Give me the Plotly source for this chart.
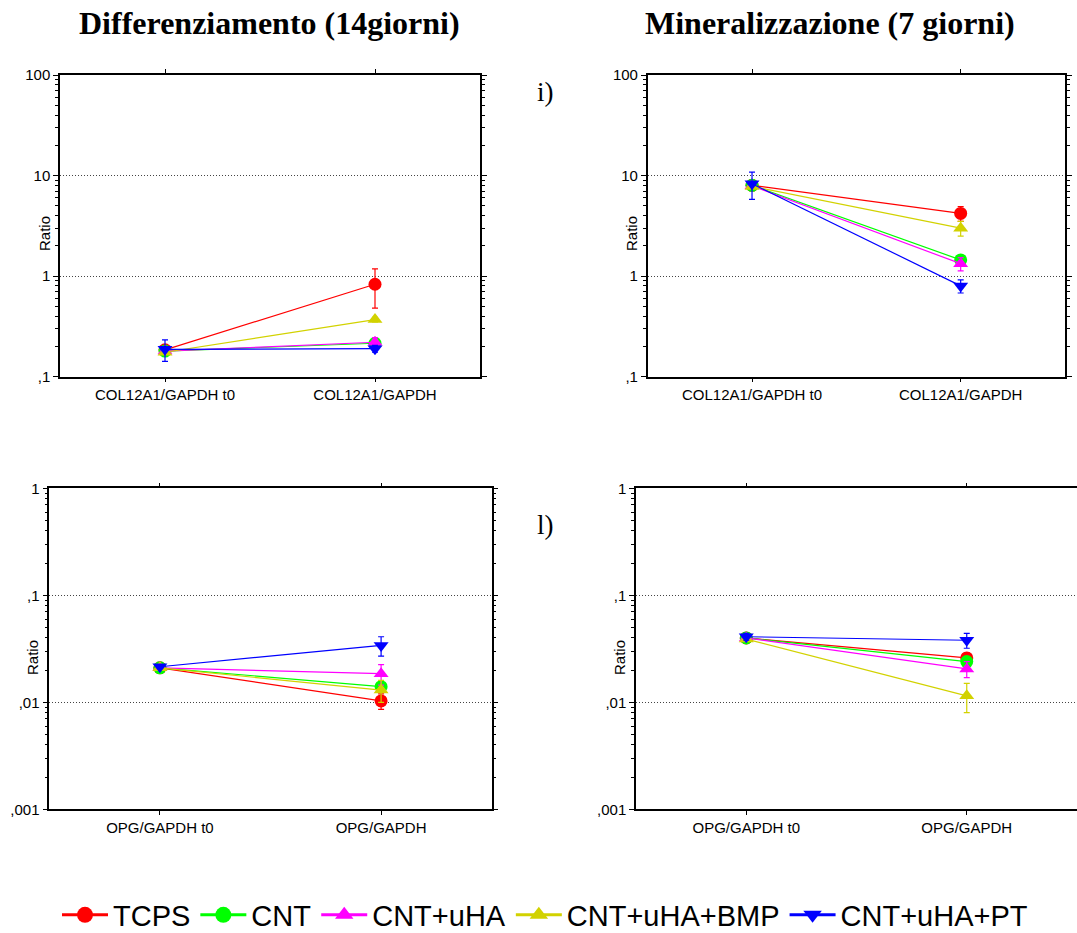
import plotly.graph_objects as go

# Series (treatment groups) and styling
groups = ["TCPS", "CNT", "CNT+uHA", "CNT+uHA+BMP", "CNT+uHA+PT"]
colors = ["#FF0000", "#00FF00", "#FF00FF", "#D2D200", "#0000FF"]
symbols = ["circle", "circle", "triangle-up", "triangle-up", "triangle-down"]

# Category labels
col12_cats = ["COL12A1/GAPDH t0", "COL12A1/GAPDH"]
opg_cats = ["OPG/GAPDH t0", "OPG/GAPDH"]

# COL12A1 - differenziamento (14 giorni); values in group order
col12_diff_t0 = [0.185, 0.18, 0.18, 0.175, 0.187]
col12_diff_t0_err = [0.0, 0.0, 0.0, 0.0, 0.045]
col12_diff_end = [0.83, 0.215, 0.22, 0.37, 0.19]
col12_diff_end_err = [0.35, 0.02, 0.025, 0.02, 0.015]

# COL12A1 - mineralizzazione (7 giorni)
col12_min_t0 = [8.0, 8.0, 7.9, 7.8, 8.3]
col12_min_t0_err = [0.0, 0.0, 0.0, 0.0, 2.5]
col12_min_end = [4.2, 1.45, 1.33, 3.0, 0.8]
col12_min_end_err = [0.7, 0.1, 0.2, 0.5, 0.12]

# OPG - differenziamento (14 giorni)
opg_diff_t0 = [0.021, 0.021, 0.021, 0.021, 0.0215]
opg_diff_t0_err = [0.0, 0.0, 0.0, 0.0, 0.0]
opg_diff_end = [0.0103, 0.014, 0.0185, 0.013, 0.034]
opg_diff_end_err = [0.0017, 0.001, 0.004, 0.003, 0.007]

# OPG - mineralizzazione (7 giorni)
opg_min_t0 = [0.040, 0.040, 0.040, 0.039, 0.041]
opg_min_t0_err = [0.0, 0.0, 0.0, 0.0, 0.003]
opg_min_end = [0.026, 0.024, 0.0205, 0.0115, 0.038]
opg_min_end_err = [0.003, 0.002, 0.0035, 0.0035, 0.006]

W, H = 1077, 933


def px_x(a, b):
    return [a / W, b / W]


def px_y(top, bottom):
    return [1 - bottom / H, 1 - top / H]


panels = [
    # (x-domain, y-domain, categories, t0, t0 err, end, end err, log range,
    #  tick vals, tick text, "Ratio" label position in px)
    (px_x(60, 480), px_y(75, 376.7), col12_cats, col12_diff_t0, col12_diff_t0_err,
     col12_diff_end, col12_diff_end_err, [-1, 2], [0.1, 1, 10, 100],
     [",1", "1", "10", "100"], (45, 234)),
    (px_x(647.7, 1065), px_y(75, 376.7), col12_cats, col12_min_t0, col12_min_t0_err,
     col12_min_end, col12_min_end_err, [-1, 2], [0.1, 1, 10, 100],
     [",1", "1", "10", "100"], (632, 234)),
    (px_x(49.3, 491.7), px_y(488.3, 809.3), opg_cats, opg_diff_t0, opg_diff_t0_err,
     opg_diff_end, opg_diff_end_err, [-3, 0], [0.001, 0.01, 0.1, 1],
     [",001", ",01", ",1", "1"], (32, 658)),
    (px_x(636, 1077), px_y(488.3, 809.3), opg_cats, opg_min_t0, opg_min_t0_err,
     opg_min_end, opg_min_end_err, [-3, 0], [0.001, 0.01, 0.1, 1],
     [",001", ",01", ",1", "1"], (619, 658)),
]

fig = go.Figure()
sans = "Liberation Sans, Arial, sans-serif"
serif = "Liberation Serif, Times New Roman, serif"
annotations = []

for p, (xd, yd, cats, t0, t0e, end, ende, yr, tv, tt, rpos) in enumerate(panels):
    n = p + 1
    xa = "x" if n == 1 else f"x{n}"
    ya = "y" if n == 1 else f"y{n}"
    for i, g in enumerate(groups):
        fig.add_trace(go.Scatter(
            x=cats, y=[t0[i], end[i]],
            xaxis=xa, yaxis=ya,
            mode="lines+markers",
            name=g, legendgroup=g, showlegend=False,
            line=dict(color=colors[i], width=1.2),
            marker=dict(color=colors[i], symbol=symbols[i], size=13,
                        line=dict(width=0)),
            error_y=dict(type="data", array=[t0e[i], ende[i]], visible=True,
                         color=colors[i], thickness=1.2, width=3),
        ))

    minor_vals = [m * 10 ** e for e in range(yr[0], yr[1]) for m in range(2, 10)]
    xkey = "xaxis" if n == 1 else f"xaxis{n}"
    ykey = "yaxis" if n == 1 else f"yaxis{n}"
    fig.update_layout(**{
        xkey: dict(
            domain=xd, anchor=ya, type="category", range=[-0.5, 1.5],
            showline=True, linecolor="black", linewidth=1.5, mirror="ticks",
            ticks="outside", ticklen=4, tickcolor="black",
            showgrid=False, zeroline=False,
            tickfont=dict(family=sans, size=15, color="black"),
        ),
        ykey: dict(
            domain=yd, anchor=xa, type="log", range=yr,
            tickmode="array", tickvals=tv, ticktext=tt,
            showline=True, linecolor="black", linewidth=1.5, mirror="ticks",
            ticks="outside", ticklen=5, tickcolor="black",
            showgrid=True, gridcolor="#444444", griddash="1px,2px", gridwidth=1,
            zeroline=False,
            minor=dict(tickmode="array", tickvals=minor_vals, ticks="outside",
                       ticklen=3, tickcolor="black", showgrid=False),
            tickfont=dict(family=sans, size=15, color="black"),
        ),
    })
    annotations.append(dict(text="Ratio", x=rpos[0] / W, y=1 - rpos[1] / H,
                            textangle=-90,
                            font=dict(family=sans, size=15, color="black")))

# Legend entries (one per group, thicker line and larger symbol)
for i, g in enumerate(groups):
    fig.add_trace(go.Scatter(
        x=[None], y=[None], mode="lines+markers", name=g, legendgroup=g,
        showlegend=True,
        line=dict(color=colors[i], width=3),
        marker=dict(color=colors[i], symbol=symbols[i], size=17, line=dict(width=0)),
    ))

annotations += [
    dict(text="<b>Differenziamento (14giorni)</b>", x=269 / W, y=1 - 23 / H,
         font=dict(family=serif, size=32, color="black")),
    dict(text="<b>Mineralizzazione (7 giorni)</b>", x=830 / W, y=1 - 23 / H,
         font=dict(family=serif, size=32, color="black")),
    dict(text="i)", x=545 / W, y=1 - 92 / H,
         font=dict(family=serif, size=27, color="black")),
    dict(text="l)", x=545 / W, y=1 - 525 / H,
         font=dict(family=serif, size=27, color="black")),
]
for a in annotations:
    a.update(xref="paper", yref="paper", showarrow=False,
             xanchor="center", yanchor="middle")

fig.update_layout(
    width=W, height=H,
    margin=dict(l=0, r=0, t=0, b=0, autoexpand=False),
    paper_bgcolor="white", plot_bgcolor="white",
    font=dict(family=sans, color="black"),
    annotations=annotations,
    showlegend=True,
    legend=dict(orientation="h", x=545 / W, xanchor="center",
                y=1 - 915 / H, yanchor="middle",
                font=dict(family=sans, size=29, color="black"),
                itemwidth=46, tracegroupgap=0, bgcolor="rgba(0,0,0,0)"),
)

fig.write_html("out.html")
